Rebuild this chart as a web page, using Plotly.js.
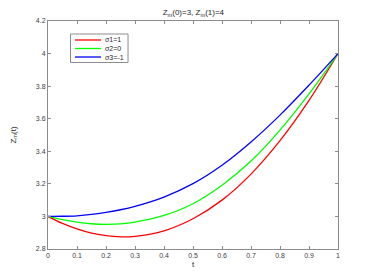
<!DOCTYPE html>
<html>
<head>
<meta charset="utf-8">
<script src="https://cdn.plot.ly/plotly-3.0.1.min.js"></script>
<style>html,body{margin:0;padding:0;background:#fff}#plot{width:374px;height:280px}</style>
</head>
<body>
<div id="plot"></div>
<script>
const t      = [0, 0.05, 0.1, 0.15, 0.2, 0.25, 0.3, 0.4, 0.5, 0.6, 0.7, 0.8, 0.9, 1];
const zRed   = [3.0, 2.957, 2.923, 2.897, 2.882, 2.875, 2.878, 2.912, 2.986, 3.100, 3.260, 3.465, 3.712, 4.0];
const zGreen = [3.0, 2.980, 2.965, 2.955, 2.951, 2.954, 2.965, 3.006, 3.078, 3.191, 3.340, 3.530, 3.752, 4.0];
const zBlue  = [3.0, 3.001, 3.004, 3.012, 3.025, 3.041, 3.062, 3.119, 3.201, 3.314, 3.457, 3.622, 3.806, 4.0];
const names  = ['σ1=1', 'σ2=0', 'σ3=-1'];
const colors = ['#ff0000', '#00ff00', '#0000ff'];
const xTicks = [0, 0.1, 0.2, 0.3, 0.4, 0.5, 0.6, 0.7, 0.8, 0.9, 1];
const yTicks = [2.8, 3, 3.2, 3.4, 3.6, 3.8, 4, 4.2];

const font = 'Liberation Sans, Arial, sans-serif';
const series = [zRed, zGreen, zBlue];
const data = series.map((y, i) => ({
  x: t, y: y, name: names[i], type: 'scatter', mode: 'lines',
  line: {color: colors[i], width: 1.3, shape: 'spline', smoothing: 1}
}));

// Legend drawn in paper coordinates (MATLAB-style compact box)
const lg = {x0: 0.0776, x1: 0.276, y0: 0.818, y1: 0.943, rowY: [0.9167, 0.8794, 0.8421],
            lineX0: 0.0931, lineX1: 0.1828, textX: 0.1897};
const shapes = [{type: 'rect', xref: 'paper', yref: 'paper', x0: lg.x0, x1: lg.x1, y0: lg.y0, y1: lg.y1,
                 line: {color: '#8c8c8c', width: 1}, fillcolor: '#ffffff', layer: 'above'}];
const annotations = [];
names.forEach((n, i) => {
  shapes.push({type: 'line', xref: 'paper', yref: 'paper', x0: lg.lineX0, x1: lg.lineX1,
               y0: lg.rowY[i], y1: lg.rowY[i], line: {color: colors[i], width: 1.3}, layer: 'above'});
  annotations.push({xref: 'paper', yref: 'paper', x: lg.textX, y: lg.rowY[i], text: n, showarrow: false,
                    xanchor: 'left', yanchor: 'middle', font: {family: font, size: 7, color: '#262626'}});
});

const axCommon = {
  showline: true, linecolor: '#8c8c8c', linewidth: 1, mirror: 'ticks',
  ticks: 'inside', ticklen: 3, tickcolor: '#8c8c8c', showgrid: false, zeroline: false,
  tickfont: {family: font, size: 7, color: '#404040'}
};
const layout = {
  width: 374, height: 280,
  margin: {l: 48, r: 36, t: 21, b: 31},
  paper_bgcolor: '#fff', plot_bgcolor: '#fff',
  showlegend: false,
  title: {text: 'Z<sub>m</sub>(0)=3, Z<sub>m</sub>(1)=4', font: {family: font, size: 8, color: '#262626'},
          x: 0.517, xanchor: 'center', y: 0.955, yanchor: 'middle', yref: 'container'},
  xaxis: Object.assign({}, axCommon, {range: [0, 1], tickvals: xTicks, ticktext: xTicks.map(String),
          title: {text: 't', font: {family: font, size: 8, color: '#262626'}, standoff: 2}}),
  yaxis: Object.assign({}, axCommon, {range: [2.8, 4.2], tickvals: yTicks, ticktext: yTicks.map(v => String(v)),
          title: {text: 'Z<sub>m</sub>(t)', font: {family: font, size: 8, color: '#262626'}, standoff: 18}}),
  shapes: shapes,
  annotations: annotations
};
Plotly.newPlot('plot', data, layout, {staticPlot: true, displayModeBar: false});
</script>
</body>
</html>
